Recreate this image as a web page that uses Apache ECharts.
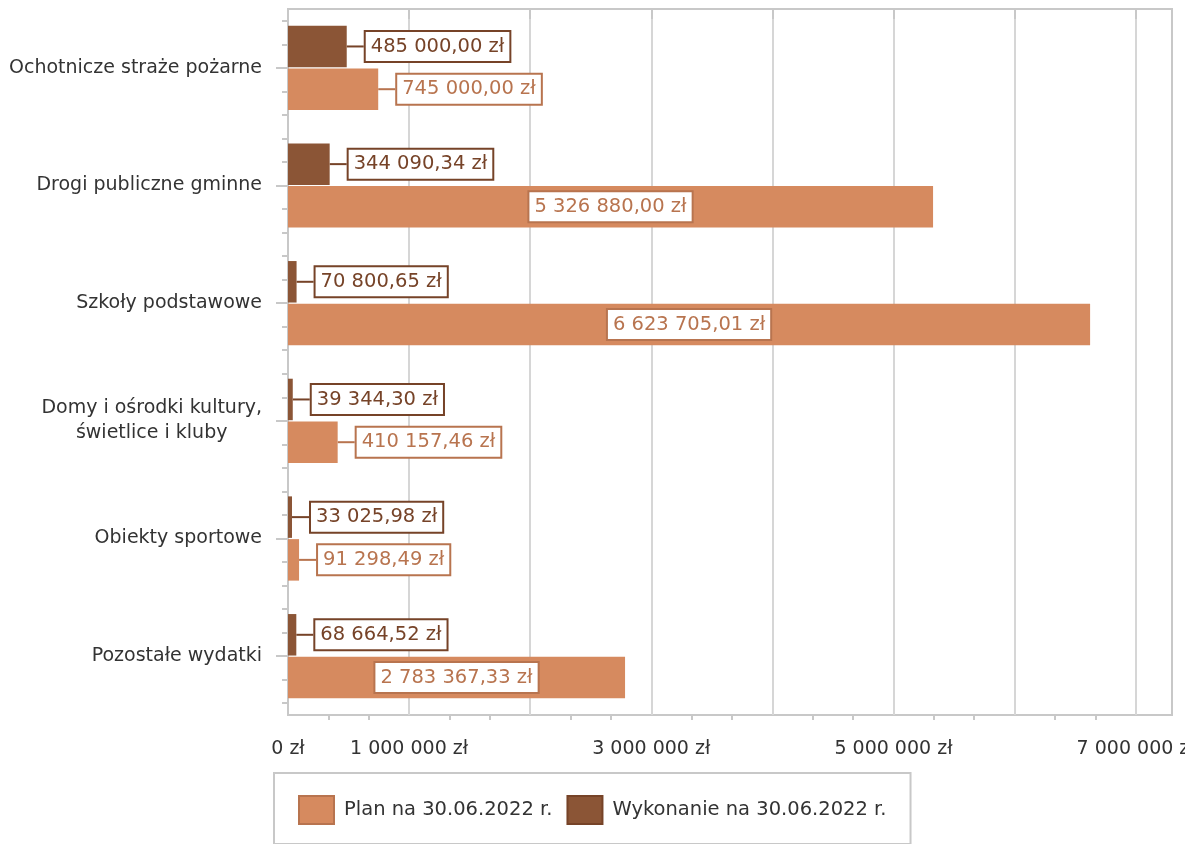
<!DOCTYPE html>
<html><head><meta charset="utf-8">
<script src="https://cdn.jsdelivr.net/npm/echarts@6/dist/echarts.min.js"></script>
<style>html,body{margin:0;padding:0;background:#fff}#c{width:1185px;height:844px}</style>
</head><body><div id="c"></div>
<script>
const categories = ['Ochotnicze straże pożarne', 'Drogi publiczne gminne', 'Szkoły podstawowe', 'Domy i ośrodki kultury,\nświetlice i kluby', 'Obiekty sportowe', 'Pozostałe wydatki'];
const planValues = [745000.00, 5326880.00, 6623705.01, 410157.46, 91298.49, 2783367.33];
const execValues = [485000.00, 344090.34, 70800.65, 39344.30, 33025.98, 68664.52];
const seriesNames = ['Plan na 30.06.2022 r.', 'Wykonanie na 30.06.2022 r.'];
const xTickValues = [0, 1000000, 2000000, 3000000, 4000000, 5000000, 6000000, 7000000];
const xLabelValues = [0, 1000000, 3000000, 5000000, 7000000];

const FONT = 'DejaVu Sans';
const PLAN_COLOR = '#d68a5f', PLAN_DARK = '#b8744f';
const EXEC_COLOR = '#8b5536', EXEC_DARK = '#764328';
const GRID_GRAY = '#c8c8c8';

function fmtPL(v, dec) {
  const s = v.toFixed(dec);
  let parts = s.split('.');
  let int = parts[0].replace(/\B(?=(\d{3})+(?!\d))/g, ' ');
  return int + (parts[1] ? ',' + parts[1] : '') + ' zł';
}

// minor tick positions (thirds of a million) and y minor ticks (fifths of a category)
const xMinor = [];
for (let k = 1; k < 21; k++) if (k % 3) xMinor.push(k * 1000000 / 3);
const yMinor = [];
for (let k = 0; k < categories.length * 5; k++) yMinor.push(k + 0.5);

const INSIDE_LIMIT = 2000000;

function labelCfg(color) {
  return {
    show: true, position: 'right', distance: 0,
    formatter: p => fmtPL(p.value, 2),
    color: color, fontSize: 19.5, fontFamily: FONT, lineHeight: 20,
    backgroundColor: '#fff', borderColor: color, borderWidth: 2,
    padding: [5, 5, 4, 5]
  };
}

const planData = planValues.map(v => v > INSIDE_LIMIT
  ? { value: v, label: { position: 'inside' }, labelLine: { show: false } }
  : v);

const chart = echarts.init(document.getElementById('c'), null, { renderer: 'canvas' });
chart.setOption({
  animation: false,
  backgroundColor: '#fff',
  grid: {
    left: 288, right: 13, top: 9, bottom: 129,
    show: true, borderColor: GRID_GRAY, borderWidth: 2,
    outerBoundsMode: 'none', containLabel: false
  },
  xAxis: [{
    type: 'value', min: 0, max: 7300000,
    axisLine: { show: true, lineStyle: { color: GRID_GRAY, width: 2 } },
    axisTick: { show: true, customValues: xTickValues, length: 10, lineStyle: { color: GRID_GRAY, width: 2 } },
    minorTick: { show: false },
    splitLine: { show: true, lineStyle: { color: '#d6d6d6', width: 2 } },
    axisLabel: {
      customValues: xLabelValues, margin: 25,
      formatter: v => fmtPL(v, 0),
      color: '#333', fontSize: 19, fontFamily: FONT
    }
  }, {
    type: 'value', min: 0, max: 7300000, position: 'bottom', gridIndex: 0,
    axisLine: { show: false },
    axisTick: { show: true, customValues: xMinor, length: 5, lineStyle: { color: GRID_GRAY, width: 2 } },
    splitLine: { show: false },
    axisLabel: { show: false }
  }],
  yAxis: [{
    type: 'category', inverse: true, data: categories,
    axisLine: { show: true, lineStyle: { color: GRID_GRAY, width: 2 } },
    axisTick: { show: true, alignWithLabel: true, length: 12, lineStyle: { color: GRID_GRAY, width: 2 } },
    splitLine: { show: false },
    axisLabel: {
      margin: 26, color: '#333', fontSize: 19, fontFamily: FONT,
      formatter: v => v.split('\n').map(s => '{c|' + s + '}').join('\n'),
      rich: { c: { align: 'center', fontSize: 19, fontFamily: FONT, color: '#333', lineHeight: 25 } }
    }
  }, {
    type: 'value', inverse: true, min: 0, max: categories.length * 5, position: 'left', gridIndex: 0,
    axisLine: { show: false },
    axisTick: { show: true, customValues: yMinor, length: 6, lineStyle: { color: GRID_GRAY, width: 2 } },
    splitLine: { show: false },
    axisLabel: { show: false }
  }],
  legend: {
    left: 274, top: 773,
    data: [
      { name: seriesNames[0], itemStyle: { borderColor: PLAN_DARK, borderWidth: 2 } },
      { name: seriesNames[1], itemStyle: { borderColor: EXEC_DARK, borderWidth: 2 } }
    ],
    icon: 'rect', itemWidth: 35, itemHeight: 28, itemGap: 14,
    padding: [22, 24, 19, 24],
    borderColor: GRID_GRAY, borderWidth: 2,
    textStyle: { fontSize: 19.5, fontFamily: FONT, color: '#333', padding: [0, 0, 0, 5] }
  },
  series: [{
    name: seriesNames[1], type: 'bar', data: execValues,
    xAxisIndex: 0, yAxisIndex: 0,
    barWidth: 41.5, barGap: '3%',
    itemStyle: { color: EXEC_COLOR },
    label: labelCfg(EXEC_DARK),
    labelLine: { show: true, lineStyle: { color: EXEC_DARK, width: 2 } },
    labelLayout: () => ({ dx: 19 })
  }, {
    name: seriesNames[0], type: 'bar', data: planData,
    xAxisIndex: 0, yAxisIndex: 0,
    barWidth: 41.5, barGap: '3%',
    itemStyle: { color: PLAN_COLOR },
    label: labelCfg(PLAN_DARK),
    labelLine: { show: true, lineStyle: { color: PLAN_DARK, width: 2 } },
    labelLayout: p => (planValues[p.dataIndex] > INSIDE_LIMIT ? {} : { dx: 19 })
  }]
});
</script></body></html>
